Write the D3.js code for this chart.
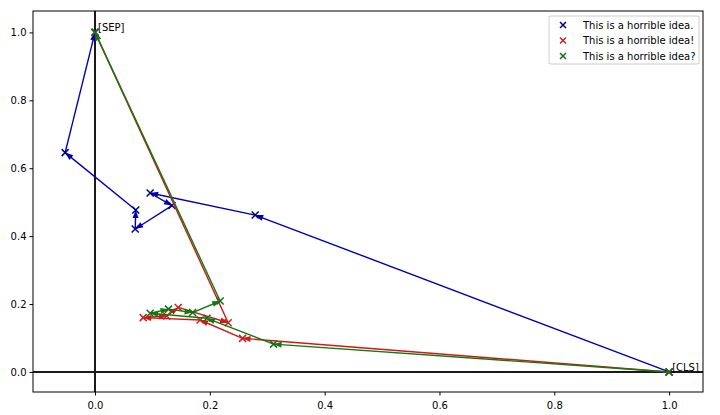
<!DOCTYPE html>
<html><head><meta charset="utf-8">
<script src="https://cdn.jsdelivr.net/npm/d3@7"></script>
<style>body{margin:0;background:#fff}svg{display:block}text{font-family:"DejaVu Sans",sans-serif}</style>
</head><body><svg id="c" width="720" height="415"></svg>
<script>
const tokens = ["[CLS]","This","is","a","horrible","idea","punct","[SEP]"];
const seriesNames = ["This is a horrible idea.","This is a horrible idea!","This is a horrible idea?"];
const blueX = [1.0, 0.279, 0.096, 0.134, 0.070, 0.071, -0.052, 0.0];
const blueY = [0.0, 0.462, 0.527, 0.490, 0.421, 0.477, 0.646, 1.0];
const redX  = [1.0, 0.257, 0.183, 0.084, 0.125, 0.145, 0.232, 0.0];
const redY  = [0.0, 0.099, 0.153, 0.160, 0.165, 0.190, 0.145, 1.0];
const greenX = [1.0, 0.311, 0.195, 0.096, 0.128, 0.170, 0.218, 0.0];
const greenY = [0.0, 0.082, 0.158, 0.173, 0.185, 0.175, 0.209, 1.0];
const xTicks = [0.0, 0.2, 0.4, 0.6, 0.8, 1.0];
const yTicks = [0.0, 0.2, 0.4, 0.6, 0.8, 1.0];
const lineColors = ["#0000b4", "#d41616", "#0f7a0f"];
const markColors = ["#00008b", "#cc1f1f", "#1a6b1a"];

const svg = d3.select("#c");
const L=33, R=703, T=11, B=392;
const x = d3.scaleLinear().domain([-0.108, 1.059]).range([L, R]);
const y = d3.scaleLinear().domain([-0.059, 1.063]).range([B, T]);

// zero lines
svg.append("line").attr("x1",L).attr("x2",R).attr("y1",y(0)).attr("y2",y(0)).attr("stroke","#1a1a1a").attr("stroke-width",2);
svg.append("line").attr("x1",x(0)).attr("x2",x(0)).attr("y1",T).attr("y2",B).attr("stroke","#1a1a1a").attr("stroke-width",2);

const series = [[blueX,blueY],[redX,redY],[greenX,greenY]];
series.forEach(([xs,ys],si)=>{
  const g = svg.append("g");
  const pts = xs.map((v,i)=>[x(v), y(ys[i])]);
  for(let i=0;i<pts.length-1;i++){
    const [x1,y1]=pts[i],[x2,y2]=pts[i+1];
    g.append("line").attr("x1",x1).attr("y1",y1).attr("x2",x2).attr("y2",y2)
      .attr("stroke",lineColors[si]).attr("stroke-width",1.4);
    const dx=x2-x1, dy=y2-y1, len=Math.hypot(dx,dy);
    if(len<1) continue;
    const ux=dx/len, uy=dy/len, hl=Math.min(8,len*0.6), hw=3;
    const bx=x2-ux*hl, by=y2-uy*hl;
    g.append("path").attr("d",`M${x2},${y2}L${bx-uy*hw},${by+ux*hw}L${bx+uy*hw},${by-ux*hw}Z`)
      .attr("fill",lineColors[si]);
  }
  pts.forEach(([px,py])=>{
    g.append("path").attr("d",`M${px-3.5},${py-3.5}L${px+3.5},${py+3.5}M${px-3.5},${py+3.5}L${px+3.5},${py-3.5}`)
      .attr("stroke",markColors[si]).attr("stroke-width",1.5);
  });
});

// annotations
svg.append("text").attr("x",x(0)+3).attr("y",y(1)-1).attr("font-size",10).attr("fill","#000").text(tokens[7]);
svg.append("text").attr("x",x(1)+3).attr("y",y(0)-1).attr("font-size",10).attr("fill","#000").text(tokens[0]);

// frame
svg.append("rect").attr("x",L).attr("y",T).attr("width",R-L).attr("height",B-T).attr("fill","none").attr("stroke","#000").attr("stroke-width",1);

// axes
const xa = svg.append("g").attr("transform",`translate(0,${B})`).call(d3.axisBottom(x).tickValues(xTicks).tickFormat(d3.format(".1f")).tickSize(3.5).tickSizeOuter(0));
const ya = svg.append("g").attr("transform",`translate(${L},0)`).call(d3.axisLeft(y).tickValues(yTicks).tickFormat(d3.format(".1f")).tickSize(3.5).tickSizeOuter(0));
[xa,ya].forEach(a=>{a.select(".domain").remove(); a.selectAll("text").attr("font-size",10).attr("font-family","DejaVu Sans").attr("fill","#000"); a.selectAll("line").attr("stroke","#000");});
xa.selectAll("text").attr("dy","1.05em");

// legend
const lg = svg.append("g");
lg.append("rect").attr("x",549).attr("y",16).attr("width",150).attr("height",48).attr("rx",2).attr("fill","#fff").attr("stroke","#ccc");
seriesNames.forEach((n,i)=>{
  const cy = 25 + i*15.5, cx = 563;
  lg.append("path").attr("d",`M${cx-3},${cy-3}L${cx+3},${cy+3}M${cx-3},${cy+3}L${cx+3},${cy-3}`).attr("stroke",markColors[i]).attr("stroke-width",1.5);
  lg.append("text").attr("x",583).attr("y",cy+3.5).attr("font-size",10).attr("fill","#000").text(n);
});
</script></body></html>
